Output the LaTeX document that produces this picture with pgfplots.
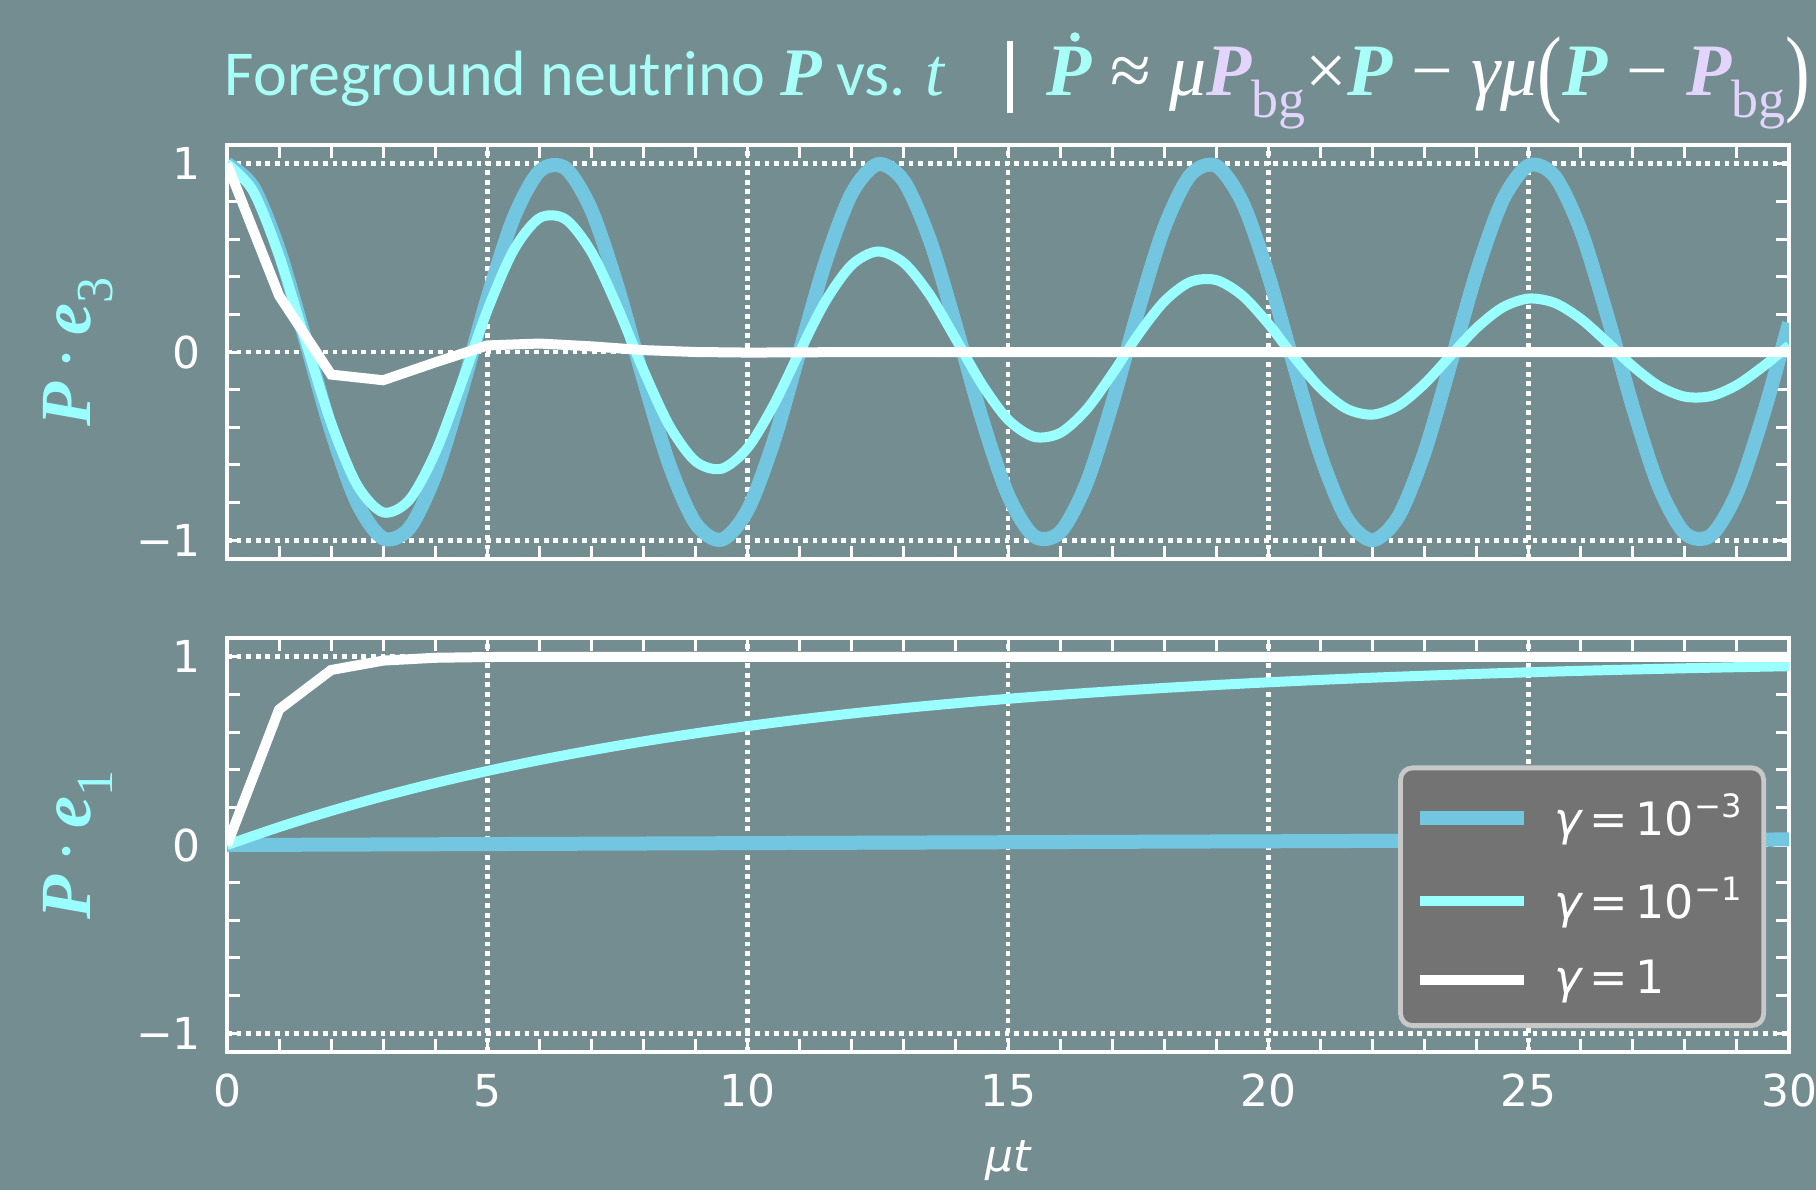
\documentclass[border=0pt]{standalone}
\usepackage{fontspec}
\setmainfont{DejaVu Sans}
\newfontfamily\titlefont{Carlito}
\newfontfamily\mathfont{Liberation Serif}
\usepackage{graphicx}
\usepackage{pgfplots}
\pgfplotsset{compat=1.18}

\definecolor{bgcol}{RGB}{116,141,145}
\definecolor{gblue}{RGB}{115,198,224}
\definecolor{gcyan}{RGB}{153,255,255}
\definecolor{tcyan}{RGB}{168,255,248}
\definecolor{bgpurple}{RGB}{226,212,250}
\definecolor{legfill}{RGB}{115,115,115}
\definecolor{legedge}{RGB}{200,200,200}

\pgfplotsset{
  panel/.style={
    scale only axis, width=390.5pt, height=103.5pt,
    xmin=0, xmax=30, ymin=-1.1, ymax=1.1,
    axis line style={white, line width=1pt},
    xtick={0,5,...,30}, ytick={-1,0,1},
    yticklabels={−1,0,1},
    minor x tick num=4, minor y tick num=4,
    tick align=inside, tick pos=both,
    major tick length=3.2pt, minor tick length=3.2pt,
    every tick/.append style={white, line width=0.75pt},
    grid=major,
    major grid style={white, line width=1.2pt, dash pattern=on 1.2pt off 1.2pt},
    /pgf/number format/assume math mode=true,
    tick label style={text=white, font=\fontsize{11}{13}\selectfont},
    yticklabel style={xshift=-3pt},
    xticklabel style={yshift=-2pt},
    ylabel style={at={(axis description cs:-0.0954,0.5)}, anchor=center,
      text=gcyan, font=\fontsize{18}{20}\selectfont},
  },
  lblue/.style={gblue, line width=3.5pt, smooth},
  lcyan/.style={gcyan, line width=2.5pt, smooth},
  lwhite/.style={white, line width=2.5pt},
}

\newcommand{\bP}{{\mathfont\bfseries\itshape P}}
\newcommand{\Pbg}{\textcolor{bgpurple}{\bfseries\itshape P\raisebox{-0.3em}{\mdseries\upshape\fontsize{13.5}{14}\selectfont bg}}}

\begin{document}
\begin{tikzpicture}
\path[use as bounding box] (-56.75pt,36.25pt) rectangle (397.25pt,-261.25pt);
\fill[bgcol] (-56.75pt,36.25pt) rectangle (397.25pt,-261.25pt);

% title
\node[anchor=base west, inner sep=0pt, text=tcyan] at (-0.75pt,12.5pt)
  {\titlefont\fontsize{16}{18}\selectfont Foreground neutrino {\mathfont\fontsize{17}{19}\selectfont\bfseries\itshape P} vs. {\mathfont\fontsize{17}{19}\selectfont\itshape t}};
\fill[white] (195pt,8pt) rectangle (196.5pt,26pt);
\node[anchor=base west, inner sep=0pt, text=white] at (204.75pt,12.5pt)
  {\mathfont\fontsize{18.5}{20}\selectfont
   \textcolor{tcyan}{\bfseries\itshape P}
   ≈ {\itshape μ}\Pbg×\textcolor{tcyan}{\bfseries\itshape P}
   − {\itshape γμ}\raisebox{-0.12em}{\scalebox{1}[1.3]{(}}\textcolor{tcyan}{\bfseries\itshape P} − \Pbg\raisebox{-0.12em}{\scalebox{1}[1.3]{)}}};
\fill[tcyan] (212pt,27pt) circle[radius=1.2pt];

% top panel: P.e3
\begin{axis}[panel, at={(0pt,0pt)}, anchor=north west, xticklabels={},
  ylabel={\bP\,{\mathfont·}\,{\mathfont\bfseries\itshape e}\raisebox{-0.3em}{\mathfont\fontsize{13}{13}\selectfont 3}}]
\addplot[lblue] coordinates {
(0,1) (0.5,0.8776) (1,0.5403) (1.5,0.0707) (2,-0.4161) (2.5,-0.8011) (3,-0.9900) (3.5,-0.9365)
(4,-0.6536) (4.5,-0.2108) (5,0.2837) (5.5,0.7087) (6,0.9602) (6.5,0.9766) (7,0.7539) (7.5,0.3466)
(8,-0.1455) (8.5,-0.6020) (9,-0.9111) (9.5,-0.9972) (10,-0.8391) (10.5,-0.4755) (11,0.0044)
(11.5,0.4833) (12,0.8439) (12.5,0.9978) (13,0.9074) (13.5,0.5949) (14,0.1367) (14.5,-0.3549)
(15,-0.7597) (15.5,-0.9785) (16,-0.9577) (16.5,-0.7024) (17,-0.2752) (17.5,0.2194) (18,0.6603)
(18.5,0.9395) (19,0.9887) (19.5,0.7958) (20,0.4081) (20.5,-0.0796) (21,-0.5477) (21.5,-0.8817)
(22,-1.0000) (22.5,-0.8733) (23,-0.5329) (23.5,-0.0620) (24,0.4240) (24.5,0.8064) (25,0.9912)
(25.5,0.9333) (26,0.6469) (26.5,0.2022) (27,-0.2922) (27.5,-0.7149) (28,-0.9626) (28.5,-0.9746)
(29,-0.7481) (29.5,-0.3383) (30,0.1543)
};
\addplot[lcyan] coordinates {
(0,1) (0.5,0.8559) (1,0.5139) (1.5,0.0656) (2,-0.3765) (2.5,-0.7070) (3,-0.8521) (3.5,-0.7862)
(4,-0.5351) (4.5,-0.1683) (5,0.2209) (5.5,0.5383) (6,0.7113) (6.5,0.7056) (7,0.5313) (7.5,0.2382)
(8,-0.0975) (8.5,-0.3936) (9,-0.5809) (9.5,-0.6202) (10,-0.5089) (10.5,-0.2813) (11,0.0025)
(11.5,0.2720) (12,0.4631) (12.5,0.5341) (13,0.4737) (13.5,0.3029) (14,0.0679) (14.5,-0.1719)
(15,-0.3589) (15.5,-0.4508) (16,-0.4303) (16.5,-0.3078) (17,-0.1176) (17.5,0.0915) (18,0.2685)
(18.5,0.3725) (19,0.3823) (19.5,0.3002) (20,0.1501) (20.5,-0.0286) (21,-0.1916) (21.5,-0.3009)
(22,-0.3329) (22.5,-0.2836) (23,-0.1687) (23.5,-0.0191) (24,0.1277) (24.5,0.2369) (25,0.2840)
(25.5,0.2608) (26,0.1763) (26.5,0.0537) (27,-0.0757) (27.5,-0.1807) (28,-0.2374) (28.5,-0.2344)
(29,-0.1755) (29.5,-0.0774) (30,0.0344)
};
\addplot[lwhite] coordinates {
(0,1) (1,0.30) (2,-0.12) (3,-0.15) (4,-0.055) (5,0.035) (6,0.045) (7,0.03) (8,0.01)
(9,0.0) (10,-0.003) (11,-0.002) (12,0) (20,0) (30,0)
};
\end{axis}

% bottom panel: P.e1
\begin{axis}[panel, at={(0pt,-123.25pt)}, anchor=north west,
  xticklabels={0,5,10,15,20,25,30},
  xlabel={\itshape μt},
  xlabel style={at={(axis description cs:0.5,0)}, anchor=center, yshift=-27.25pt,
    text=white, font=\fontsize{11}{13}\selectfont},
  ylabel={\bP\,{\mathfont·}\,{\mathfont\bfseries\itshape e}\raisebox{-0.3em}{\mathfont\fontsize{13}{13}\selectfont 1}},
  legend image code/.code={\draw[#1] (0pt,0pt) -- (26pt,0pt);},
  legend style={at={(0.9853,0.058)}, anchor=south east, fill=legfill, draw=legedge,
    line width=1.2pt, rounded corners=3pt, inner xsep=3pt, inner ysep=4.5pt,
    row sep=5pt, text=white, font=\fontsize{11.5}{13}\selectfont},
  legend cell align=left]
\addplot[lblue] coordinates {(0,0) (10,0.0100) (20,0.0198) (30,0.0296)};
\addlegendentry{\hspace{4pt}{\itshape γ}\,=\,10\textsuperscript{−3}}
\addplot[lcyan] coordinates {
(0,0) (1,0.0952) (2,0.1813) (3,0.2592) (4,0.3297) (5,0.3935) (6,0.4512) (7,0.5034) (8,0.5507)
(9,0.5934) (10,0.6321) (11,0.6671) (12,0.6988) (13,0.7275) (14,0.7534) (15,0.7769) (16,0.7981)
(17,0.8173) (18,0.8347) (19,0.8504) (20,0.8647) (21,0.8775) (22,0.8892) (23,0.8997) (24,0.9093)
(25,0.9179) (26,0.9257) (27,0.9328) (28,0.9392) (29,0.9450) (30,0.9502)
};
\addlegendentry{\hspace{4pt}{\itshape γ}\,=\,10\textsuperscript{−1}}
\addplot[lwhite] coordinates {
(0,0) (1,0.72) (2,0.93) (3,0.98) (4,0.995) (5,0.999) (6,1) (10,1) (20,1) (30,1)
};
\addlegendentry{\hspace{4pt}{\itshape γ}\,=\,1}
\end{axis}
\end{tikzpicture}
\end{document}
